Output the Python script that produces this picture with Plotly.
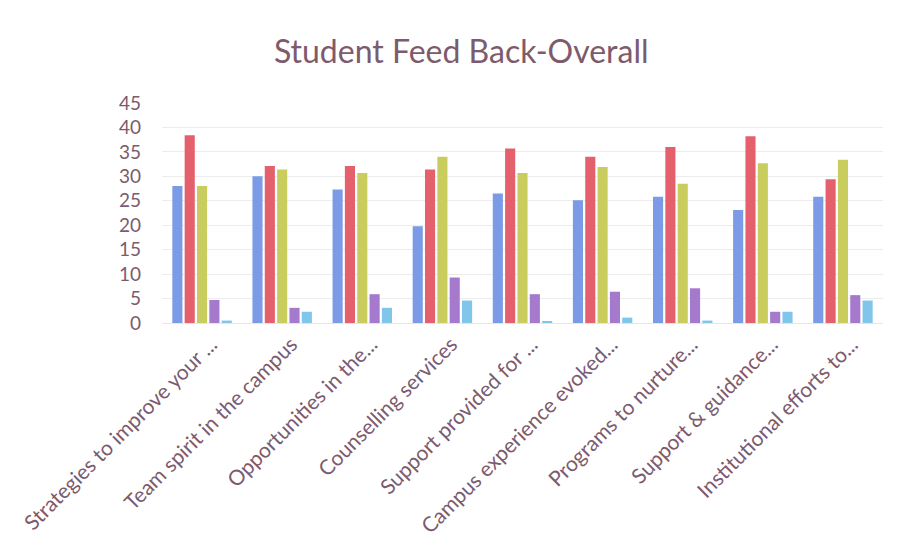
import plotly.graph_objects as go

categories = [
    "Strategies to improve your ...",
    "Team spirit in the campus",
    "Opportunities in the...",
    "Counselling services",
    "Support provided for ...",
    "Campus experience evoked...",
    "Programs to nurture...",
    "Support & guidance...",
    "Institutional efforts to...",
]

series_names = ["Series 1", "Series 2", "Series 3", "Series 4", "Series 5"]
s1 = [28.0, 30.0, 27.3, 19.8, 26.5, 25.1, 25.8, 23.1, 25.8]
s2 = [38.4, 32.1, 32.1, 31.4, 35.7, 34.0, 36.0, 38.2, 29.4]
s3 = [28.0, 31.4, 30.7, 34.0, 30.7, 31.9, 28.5, 32.7, 33.4]
s4 = [4.7, 3.1, 5.9, 9.3, 5.9, 6.4, 7.1, 2.3, 5.7]
s5 = [0.5, 2.3, 3.1, 4.6, 0.3, 1.1, 0.5, 2.3, 4.6]

colors = ["#7b9be6", "#e4606c", "#c9cd5e", "#a57acd", "#80c6ea"]

fig = go.Figure()
for name, vals, c in zip(series_names, [s1, s2, s3, s4, s5], colors):
    fig.add_trace(go.Bar(x=categories, y=vals, name=name, marker=dict(color=c, line=dict(width=0))))

text_color = "#7d5a6c"
fig.update_layout(
    width=901, height=550,
    paper_bgcolor="white", plot_bgcolor="white",
    barmode="group", bargap=0.23, bargroupgap=0.18,
    showlegend=False,
    title=dict(text="Student Feed Back-Overall", x=0.503, xanchor="center", y=0.92, yanchor="middle",
               font=dict(family="Lato, Open Sans, sans-serif", size=32, color=text_color)),
    margin=dict(l=154, r=26, t=95, b=235),
    font=dict(family="Lato, Open Sans, sans-serif", color=text_color),
)
fig.update_xaxes(tickangle=-45, tickfont=dict(size=21, color=text_color), showgrid=False,
                 showline=True, linecolor="#e6e6e6", linewidth=1, ticks="", automargin=False,
                 ticklabelshift=9)
fig.update_yaxes(range=[0, 45], dtick=5, tickfont=dict(size=19, color=text_color),
                 showgrid=True, gridcolor="#ececec", gridwidth=1, zeroline=False, ticks="",
                 ticklabelstandoff=20, automargin=False)

fig.write_html("out.html")
